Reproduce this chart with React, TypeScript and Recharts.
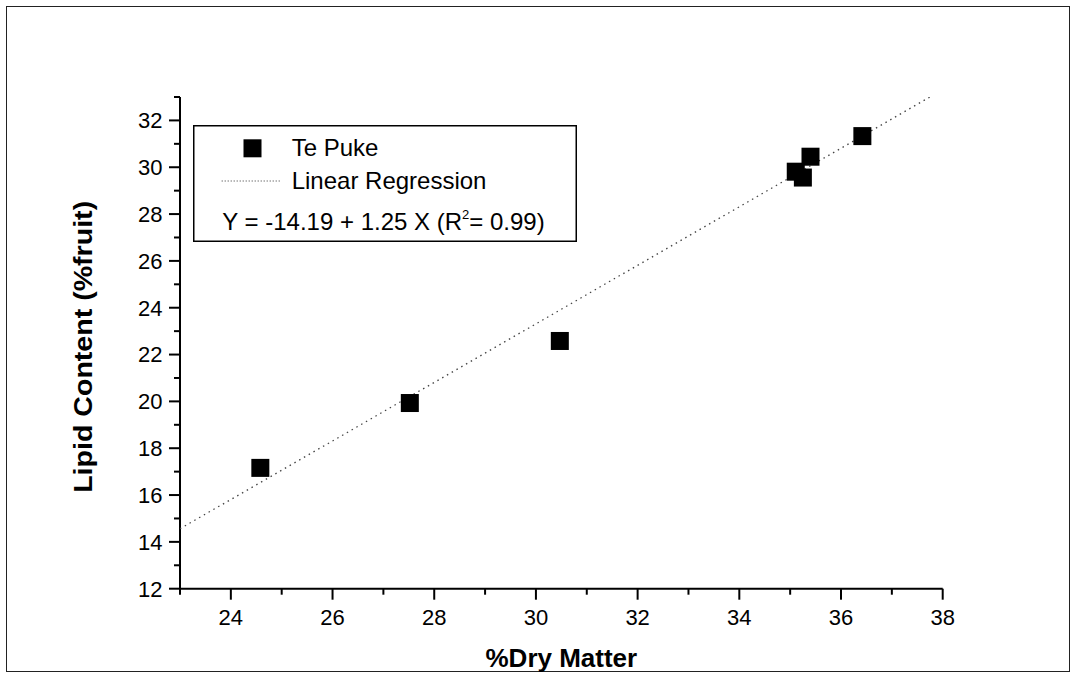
import React from 'react';
import { ScatterChart, Scatter, XAxis, YAxis, Legend, Label } from 'recharts';

// ---- data ----
const dryMatter = [24.58, 27.52, 30.47, 35.11, 35.25, 35.4, 36.42];
const lipidContent = [17.16, 19.93, 22.58, 29.81, 29.56, 30.45, 31.33];

// regression line end points (Y = -14.19 + 1.25 X), clipped at the top of the y axis
const regressionX = [23, 37.75];
const regressionY = [14.56, 33.0];

const xTicks = [23, 24, 25, 26, 27, 28, 29, 30, 31, 32, 33, 34, 35, 36, 37, 38];
const yTicks = [12, 13, 14, 15, 16, 17, 18, 19, 20, 21, 22, 23, 24, 25, 26, 27, 28, 29, 30, 31, 32, 33];

const seriesNames = ['Te Puke', 'Linear Regression'];
const equationMain = 'Y = -14.19 + 1.25 X (R';
const equationSup = '2';
const equationTail = '= 0.99)';
const xTitle = '%Dry Matter';
const yTitle = 'Lipid Content (%fruit)';

const pointData = dryMatter.map((x, i) => ({ x, y: lipidContent[i] }));
const lineData = regressionX.map((x, i) => ({ x, y: regressionY[i] }));

const FONT = '"Liberation Sans", Arial, Helvetica, sans-serif';

const YTick = (props: any) => {
  const { x, y, payload } = props;
  const v = payload.value as number;
  const major = v % 2 === 0;
  return (
    <g>
      <line x1={x - (major ? 11 : 6)} x2={x} y1={y} y2={y} stroke="#000" strokeWidth={2} />
      {major && (
        <text x={x - 17.5} y={y} dy="0.36em" textAnchor="end" fontSize={22} fontFamily={FONT} fill="#000">
          {v}
        </text>
      )}
    </g>
  );
};

const XTick = (props: any) => {
  const { x, y, payload } = props;
  const v = payload.value as number;
  const major = v % 2 === 0;
  return (
    <g>
      <line x1={x} x2={x} y1={y} y2={y + (major ? 11 : 6)} stroke="#000" strokeWidth={2} />
      {major && (
        <text x={x} y={y + 36.3} textAnchor="middle" fontSize={22} fontFamily={FONT} fill="#000">
          {v}
        </text>
      )}
    </g>
  );
};

const SquareShape = (props: any) => {
  const { cx, cy } = props;
  if (cx == null || cy == null) return <g />;
  return <rect x={cx - 9} y={cy - 9} width={18} height={18} fill="#000" />;
};

const NoShape = () => <g />;

const renderLegend = () => (
  <svg width={384} height={117} style={{ display: 'block' }}>
    <rect x={0.75} y={0.75} width={382.5} height={115.5} fill="#fff" stroke="#000" strokeWidth={1.5} />
    <rect x={50.5} y={14.3} width={18} height={18} fill="#000" />
    <text x={98.7} y={31} fontSize={24} fontFamily={FONT} fill="#000">
      {seriesNames[0]}
    </text>
    <line x1={28.7} x2={88} y1={56} y2={56} stroke="#333" strokeWidth={1} strokeDasharray="1 2" />
    <text x={98.7} y={64.3} fontSize={24} fontFamily={FONT} fill="#000">
      {seriesNames[1]}
    </text>
    <text x={29.3} y={105} fontSize={24} fontFamily={FONT} fill="#000">
      <tspan>{equationMain}</tspan>
      <tspan dy={-11} fontSize={13}>{equationSup}</tspan>
      <tspan dy={11}>{equationTail}</tspan>
    </text>
  </svg>
);

const XTitle = (props: any) => {
  const vb = props.viewBox || { x: 180, y: 588.7, width: 762.7 };
  return (
    <text
      x={vb.x + vb.width / 2}
      y={vb.y + 78}
      textAnchor="middle"
      fontSize={26}
      fontWeight="bold"
      fontFamily={FONT}
      fill="#000"
    >
      {xTitle}
    </text>
  );
};

const YTitle = (props: any) => {
  const vb = props.viewBox || { x: 0, y: 97, height: 491.7 };
  const cx = 92;
  const cy = vb.y + vb.height / 2 + 4;
  return (
    <text
      x={cx}
      y={cy}
      transform={`rotate(-90 ${cx} ${cy})`}
      textAnchor="middle"
      fontSize={25}
      fontWeight="bold"
      fontFamily={FONT}
      fill="#000"
      textLength={292}
      lengthAdjust="spacingAndGlyphs"
    >
      {yTitle}
    </text>
  );
};

export default function App() {
  return (
    <div style={{ position: 'absolute', left: 0, top: 0, width: 1072, height: 675, background: '#fff', fontFamily: FONT }}>
      <div
        style={{
          position: 'absolute',
          left: 6,
          top: 6,
          width: 1064,
          height: 666,
          border: '1.5px solid #222',
          boxSizing: 'border-box',
        }}
      />
      <div style={{ position: 'absolute', left: 0, top: 0 }}>
        <ScatterChart width={1072} height={675} margin={{ top: 97, right: 129.3, bottom: 26.3, left: 0 }}>
          <XAxis
            type="number"
            dataKey="x"
            domain={[23, 38]}
            ticks={xTicks}
            interval={0}
            allowDataOverflow
            height={60}
            tickSize={0}
            tickMargin={0}
            tickLine={false}
            axisLine={{ stroke: '#000', strokeWidth: 2 }}
            tick={XTick}
          >
            <Label content={XTitle} />
          </XAxis>
          <YAxis
            type="number"
            dataKey="y"
            domain={[12, 33]}
            ticks={yTicks}
            interval={0}
            allowDataOverflow
            width={180}
            tickSize={0}
            tickMargin={0}
            tickLine={false}
            axisLine={{ stroke: '#000', strokeWidth: 2 }}
            tick={YTick}
          >
            <Label content={YTitle} />
          </YAxis>
          <Legend
            layout="vertical"
            align="center"
            verticalAlign="middle"
            wrapperStyle={{ left: 193, top: 125, width: 384, height: 117 }}
            content={renderLegend}
          />
          <Scatter
            name={seriesNames[1]}
            data={lineData}
            fill="#444"
            line={{ stroke: '#444', strokeWidth: 1.3, strokeDasharray: '1.5 4' }}
            shape={NoShape}
            isAnimationActive={false}
          />
          <Scatter
            name={seriesNames[0]}
            data={pointData}
            fill="#000"
            shape={SquareShape}
            isAnimationActive={false}
          />
        </ScatterChart>
      </div>
    </div>
  );
}
